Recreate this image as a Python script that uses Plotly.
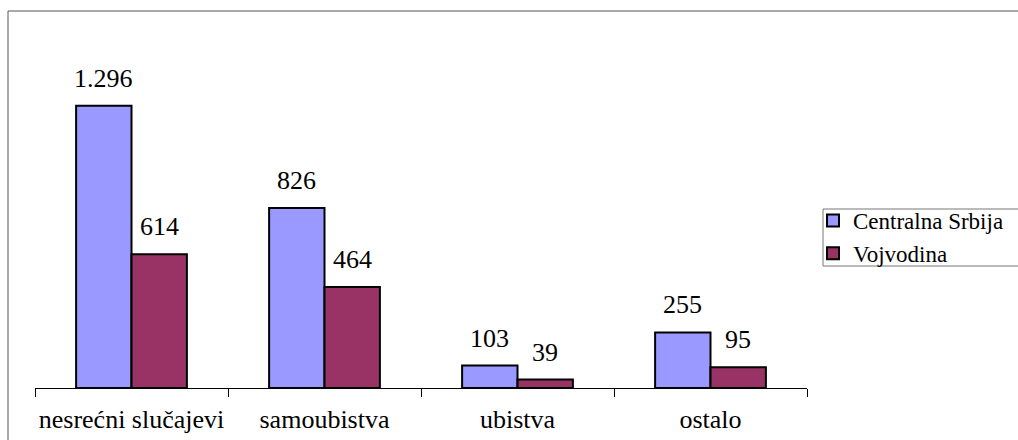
import plotly.graph_objects as go

categories = ["nesrećni slučajevi", "samoubistva", "ubistva", "ostalo"]
centralna = [1296, 826, 103, 255]
vojvodina = [614, 464, 39, 95]
labels_c = ["1.296", "826", "103", "255"]
labels_v = ["614", "464", "39", "95"]
series_names = ["Centralna Srbija", "Vojvodina"]
colors = ["#9999FF", "#993366"]

FONT = "Liberation Serif, Times New Roman, DejaVu Serif, serif"

fig = go.Figure()
for name, vals, col in zip(series_names, [centralna, vojvodina], colors):
    fig.add_trace(go.Bar(
        x=categories, y=vals, name=name,
        marker=dict(color=col, line=dict(color="black", width=2)),
    ))

off = 0.145
for i, (vc, vv, lc, lv) in enumerate(zip(centralna, vojvodina, labels_c, labels_v)):
    for dx, v, t in ((-off, vc, lc), (off, vv, lv)):
        fig.add_annotation(x=i + dx, y=v, text=t, showarrow=False,
                           xref="x", yref="y", yanchor="bottom", yshift=11,
                           font=dict(family=FONT, size=26, color="black"))

# outer chart border
fig.add_shape(type="rect", xref="paper", yref="paper",
              x0=(8 - 35) / 772, x1=(1040 - 35) / 772,
              y0=(388 - 460) / 305, y1=(388 - 11) / 305,
              line=dict(color="#555555", width=1), fillcolor="rgba(0,0,0,0)")
# legend frame
fig.add_shape(type="rect", xref="paper", yref="paper",
              x0=(823 - 35) / 772, x1=(1040 - 35) / 772,
              y0=(388 - 266) / 305, y1=(388 - 209) / 305,
              line=dict(color="#777777", width=1), fillcolor="rgba(0,0,0,0)")

fig.update_layout(
    width=1018, height=440,
    margin=dict(l=35, r=211, t=83, b=52, autoexpand=False),
    paper_bgcolor="white", plot_bgcolor="white",
    barmode="group", bargap=0.426, bargroupgap=0,
    font=dict(family=FONT, size=26, color="black"),
    showlegend=True,
    legend=dict(xref="container", yref="container",
                x=813 / 1018, y=(440 - 237) / 440, xanchor="left", yanchor="middle",
                borderwidth=0, bgcolor="rgba(0,0,0,0)",
                font=dict(family=FONT, size=23, color="black"),
                itemwidth=30, tracegroupgap=0),
    xaxis=dict(showline=True, linecolor="black", linewidth=1,
               ticks="outside", tickson="boundaries", ticklen=8, tickcolor="black",
               tickfont=dict(family=FONT, size=26, color="black"),
               tickangle=0, ticklabelstandoff=8,
               showgrid=False, zeroline=False),
    yaxis=dict(range=[0, 1400], visible=False, showgrid=False, zeroline=False),
)

fig.write_html("out.html", config={"displayModeBar": False},
               post_script="document.body.style.margin='0';document.body.style.overflow='hidden';")
